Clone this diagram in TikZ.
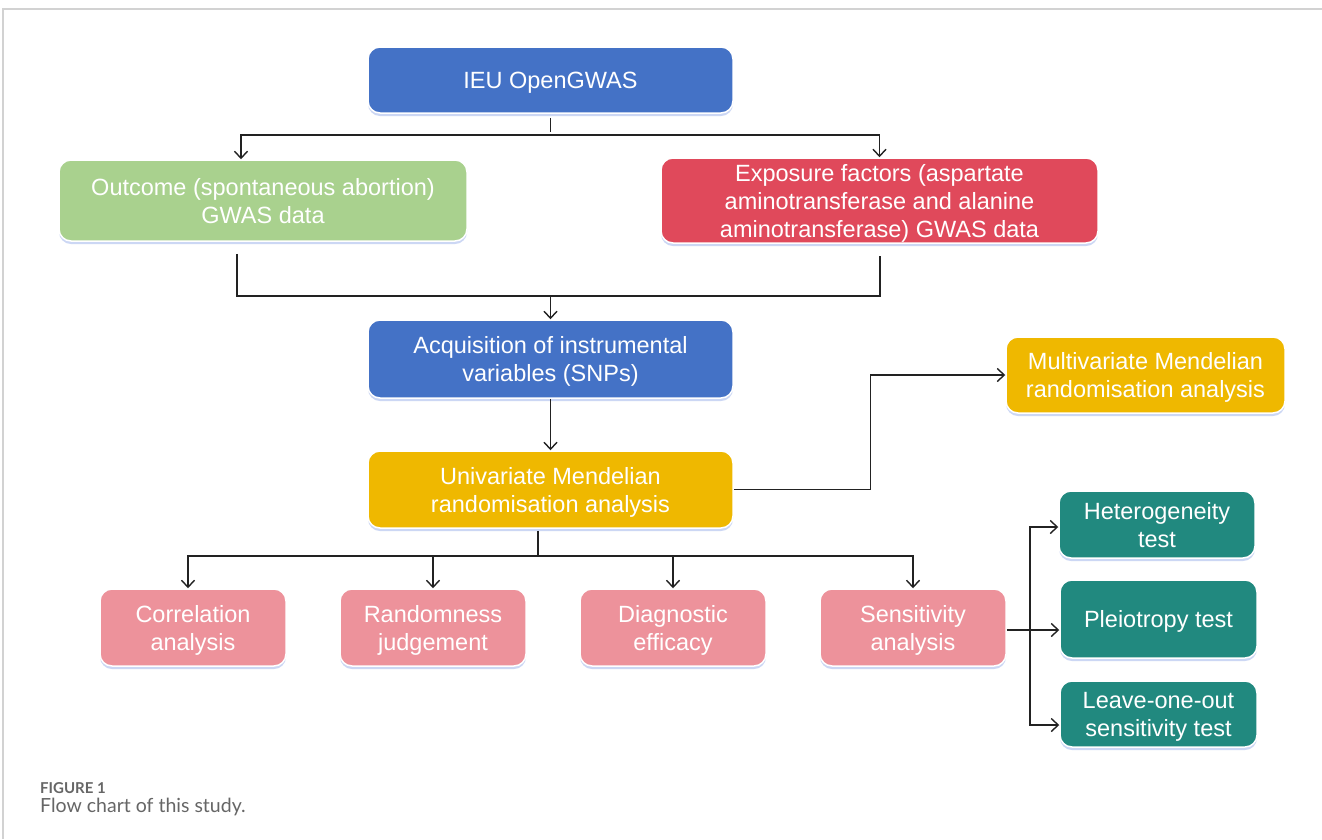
\documentclass[tikz,border=0pt]{standalone}
\usepackage{fontspec}
\setmainfont{Liberation Sans}
\newfontfamily\capfont{Lato}
\usetikzlibrary{arrows.meta,shadows,calc}
\definecolor{cblue}{HTML}{4472C6}
\definecolor{cgreen}{HTML}{A9D18E}
\definecolor{cred}{HTML}{E0495B}
\definecolor{cyellow}{HTML}{EFB800}
\definecolor{cpink}{HTML}{ED929B}
\definecolor{cteal}{HTML}{21897F}
\definecolor{cline}{HTML}{222222}
\definecolor{cshadow}{HTML}{8FA8E8}
\definecolor{ccap}{HTML}{666666}
\newcommand\hs{\rule{0pt}{23pt}}
\newcommand\ds{\rule[-6pt]{0pt}{0pt}}
\tikzset{
  box/.style={draw=white, line width=1.5pt, rounded corners=12pt, align=center,
    text=white, inner sep=0pt, font=\fontsize{23.5}{28}\selectfont,
    drop shadow={shadow xshift=0pt, shadow yshift=-3pt, opacity=0.45, fill=cshadow}},
  conn/.style={draw=cline, line width=1.4pt},
  arr/.style={conn, -{Straight Barb[length=7pt,width=13pt,line width=1.4pt]}},
}
\begin{document}
\begin{tikzpicture}[x=1pt,y=-1pt]
\useasboundingbox (0,0) rectangle (1322,839);
\fill[white] (0,0) rectangle (1322,839);
% frame
\draw[gray!35, line width=2pt] (3,839) -- (3,9) -- (1322,9);

% nodes
\node[box, fill=cblue, minimum width=365pt, minimum height=66pt] (ieu) at (550.5,80) {\hs IEU OpenGWAS\ds};
\node[box, fill=cgreen, minimum width=408pt, minimum height=81pt] (out) at (263,200.5) {\hs Outcome (spontaneous abortion)\\GWAS data\ds};
\node[box, fill=cred, minimum width=437pt, minimum height=81pt] (exp) at (879.5,200.5) {\hs Exposure factors (aspartate\\aminotransferase and alanine\\aminotransferase) GWAS data\ds};
\node[box, fill=cblue, minimum width=365pt, minimum height=78pt] (acq) at (550.5,359) {\hs Acquisition of instrumental\\variables (SNPs)\ds};
\node[box, fill=cyellow, minimum width=365pt, minimum height=77pt] (uni) at (550.5,489.5) {\hs Univariate Mendelian\\randomisation analysis\ds};
\node[box, fill=cyellow, minimum width=279pt, minimum height=76pt] (mul) at (1145.5,375) {\hs Multivariate Mendelian\\randomisation analysis\ds};
\node[box, fill=cpink, minimum width=186pt, minimum height=77pt] (cor) at (193,627.5) {\hs Correlation\\analysis\ds};
\node[box, fill=cpink, minimum width=186pt, minimum height=77pt] (ran) at (433,627.5) {\hs Randomness\\judgement\ds};
\node[box, fill=cpink, minimum width=186pt, minimum height=77pt] (dia) at (673,627.5) {\hs Diagnostic\\efficacy\ds};
\node[box, fill=cpink, minimum width=186pt, minimum height=77pt] (sen) at (913,627.5) {\hs Sensitivity\\analysis\ds};
\node[box, fill=cteal, minimum width=196pt, minimum height=67pt] (het) at (1157,524.5) {\hs Heterogeneity\\test\ds};
\node[box, fill=cteal, minimum width=197pt, minimum height=78pt] (ple) at (1158.5,619) {\hs Pleiotropy test\ds};
\node[box, fill=cteal, minimum width=197pt, minimum height=66pt] (loo) at (1158.5,714) {\hs Leave-one-out\\sensitivity test\ds};

% connectors
\coordinate (b1) at (550.5,135);
\draw[conn] ($(ieu.south)+(0,4)$) -- ($(b1)+(0,-3)$);
\draw[arr] (b1) -| ([xshift=-22pt]out.north);
\draw[arr] (b1) -| (exp.north);

\coordinate (b2) at (550.5,296);
\coordinate (o1) at ($(out.south)+(-26,12)$);
\coordinate (e1) at ($(exp.south)+(0.5,12)$);
\draw[conn] (o1) |- (b2) -| (e1);
\draw[arr] (b2) -- (acq.north);

\draw[arr] (acq.south) -- (uni.north);
\draw[arr] (uni.east) -- ++(137,0) |- (mul.west);

\coordinate (b3) at (538,556);
\draw[conn] ($(uni.south)+(-12.5,2)$) -- (b3);
\draw[arr] (b3) -| ([xshift=-5pt]cor.north);
\draw[arr] (b3) -| (sen.north);
\draw[arr] (ran.north |- b3) -- (ran.north);
\draw[arr] (dia.north |- b3) -- (dia.north);

\coordinate (b4) at (1030,630);
\draw[conn] (b4 -| sen.east) -- (b4);
\draw[arr] (b4) -- (b4 -| ple.west);
\draw[arr] (b4) |- ([yshift=-2.5pt]het.west);
\draw[arr] (b4) |- ([yshift=-11pt]loo.west);

% caption
\node[anchor=west, inner sep=0pt, text=ccap, font=\capfont\bfseries\fontsize{15}{17}\selectfont] (fig) at (40,788) {FIGURE 1};
\node[anchor=west, inner sep=0pt, text=ccap, font=\capfont\fontsize{19.5}{22}\selectfont] (capt) at (40,806.5) {Flow chart of this study.};
\end{tikzpicture}
\end{document}
